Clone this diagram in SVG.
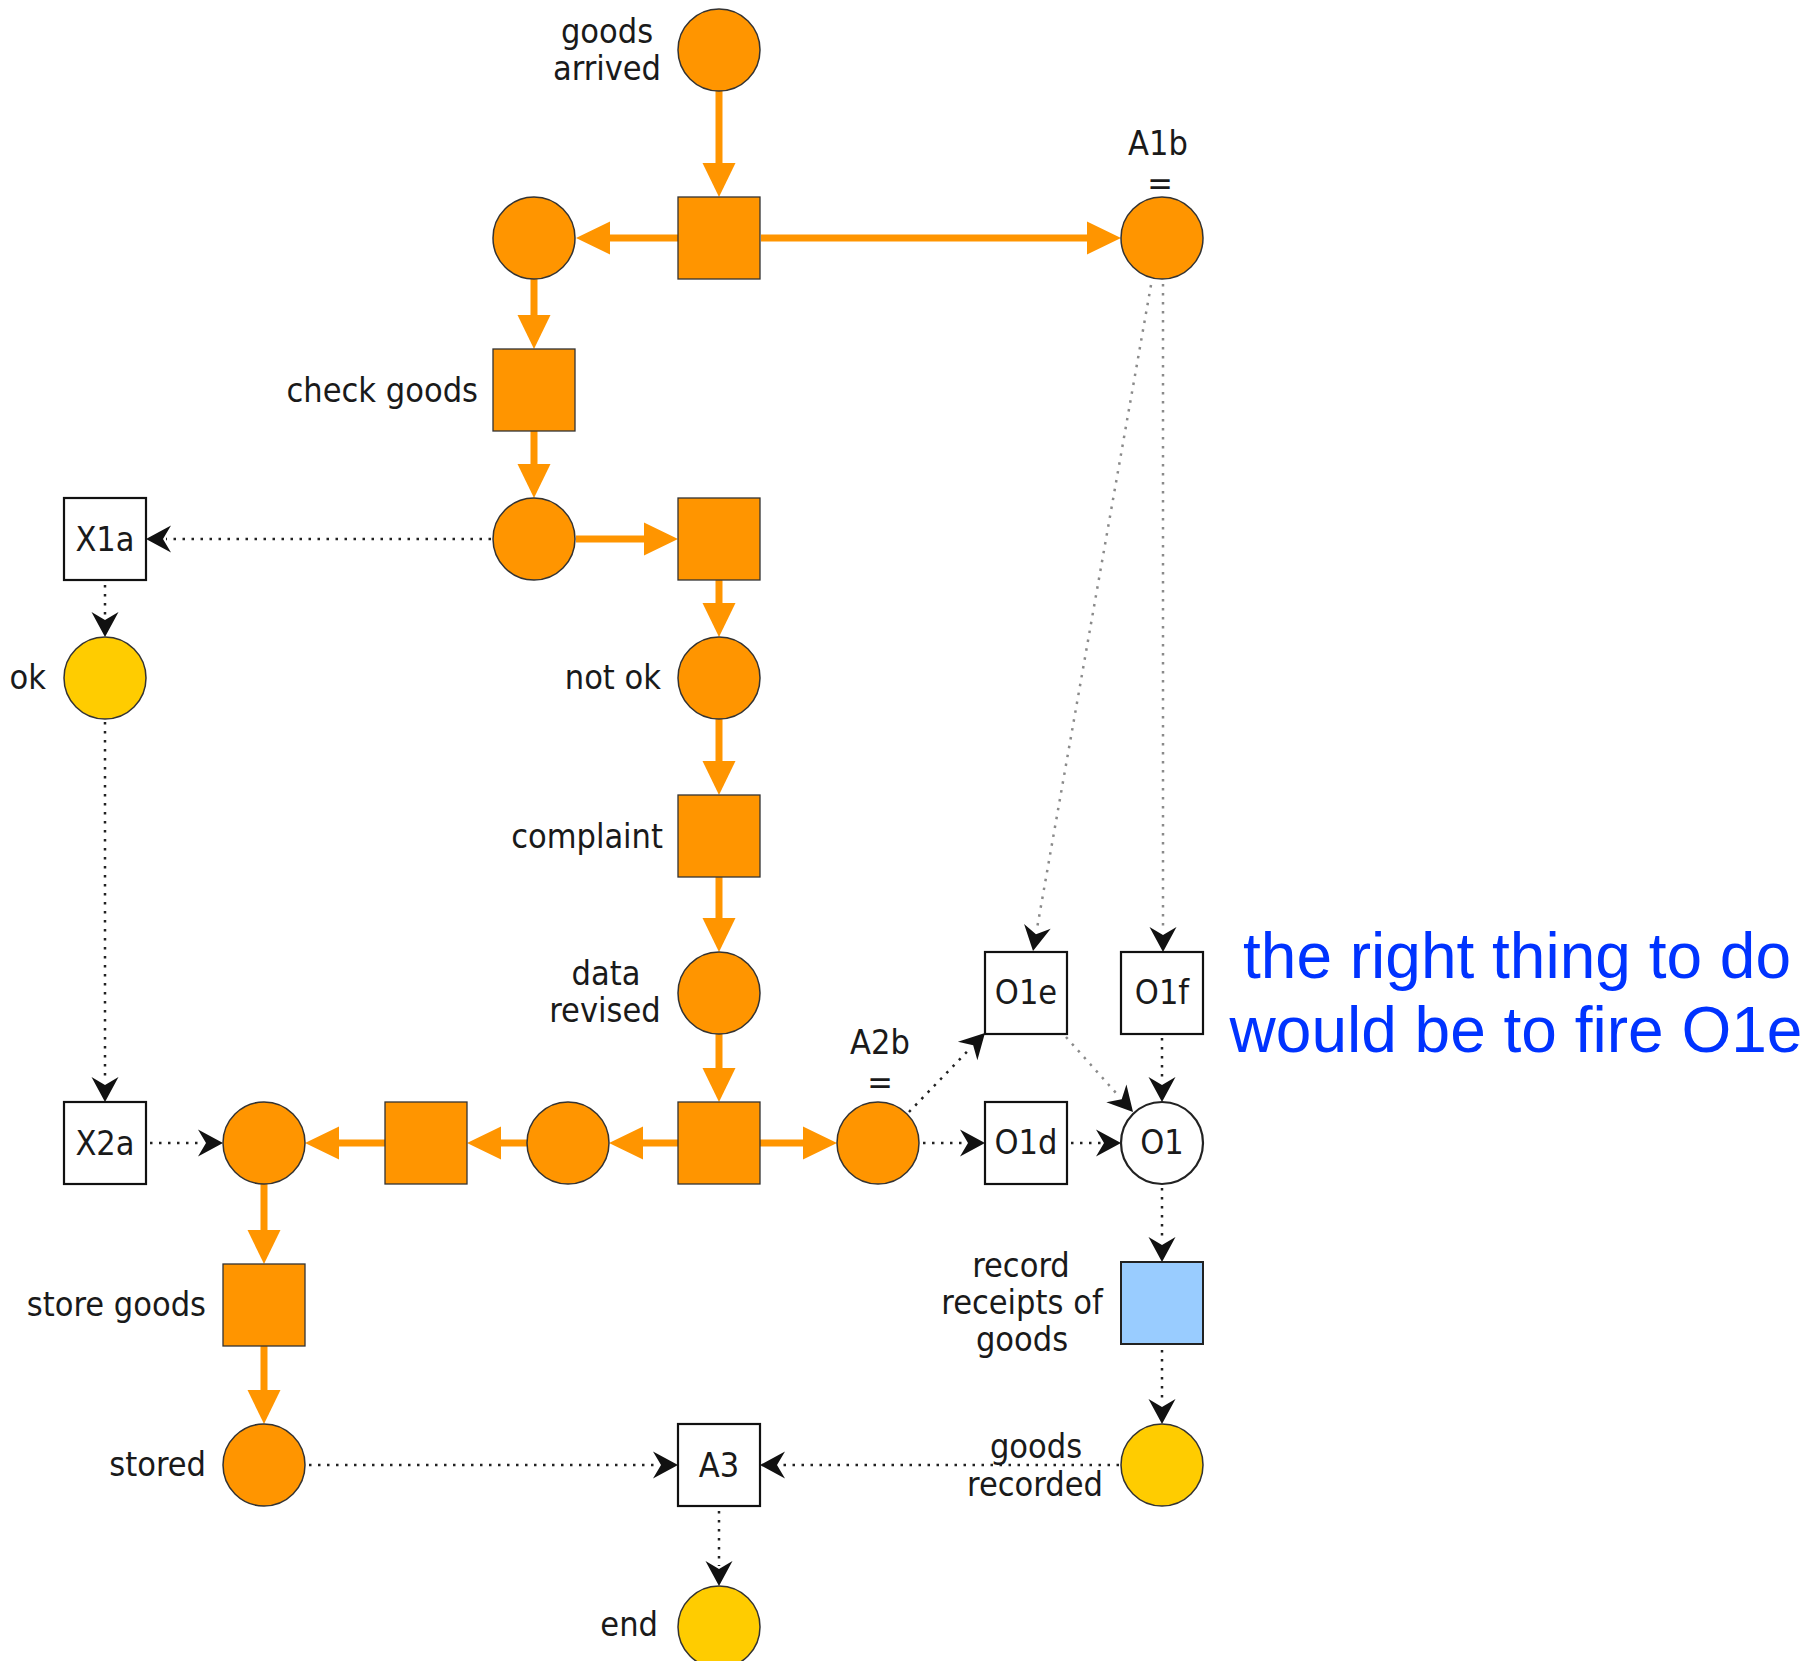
<svg xmlns="http://www.w3.org/2000/svg" width="1810" height="1661" viewBox="0 0 1810 1661">
<style>
.lbl{font-family:"DejaVu Sans Condensed","DejaVu Sans",sans-serif;font-stretch:condensed;font-size:34px;fill:#1a1a1a}
.mid{text-anchor:middle}
.end{text-anchor:end}
.po{fill:#FF9500;stroke:#333;stroke-width:1.5}
.py{fill:#FFCC00;stroke:#333;stroke-width:1.5}
.pw{fill:#fff;stroke:#222;stroke-width:2.2}
.to{fill:#FF9500;stroke:#333;stroke-width:1.3}
.tb{fill:#99CCFF;stroke:#222;stroke-width:2}
.bx{fill:#fff;stroke:#111;stroke-width:2.2}
.eo{fill:none;stroke:#FF9500;stroke-width:7;marker-end:url(#ao)}
.ed{fill:none;stroke:#222;stroke-width:2.5;stroke-dasharray:2.5 6.5;marker-end:url(#ab)}
.eg{fill:none;stroke:#8a8a8a;stroke-width:2.5;stroke-dasharray:2.5 6.5;marker-end:url(#ab)}
.note{font-family:"Liberation Sans",Arial,sans-serif;font-size:64px;fill:#0033FF;text-anchor:middle}
</style>
<defs>
<marker id="ao" markerUnits="userSpaceOnUse" markerWidth="40" markerHeight="40" refX="0" refY="0" orient="auto" overflow="visible">
<path d="M-4,-16.5 L30,0 L-4,16.5 Z" fill="#FF9500"/>
</marker>
<marker id="ab" markerUnits="userSpaceOnUse" markerWidth="30" markerHeight="30" refX="0" refY="0" orient="auto" overflow="visible">
<path d="M20,0 L-5,-13.5 L3,0 L-5,13.5 Z" fill="#111"/>
</marker>
</defs>
<rect width="1810" height="1661" fill="#fff"/>

<g id="connectors">
<path class="eo" d="M719,91 L719,167"/>
<path class="eo" d="M678,238 L606,238"/>
<path class="eo" d="M761,238 L1091,238"/>
<path class="eo" d="M534,279 L534,319"/>
<path class="eo" d="M534,431 L534,468"/>
<path class="eo" d="M576,539 L648,539"/>
<path class="eo" d="M719,580 L719,607"/>
<path class="eo" d="M719,719 L719,765"/>
<path class="eo" d="M719,877 L719,922"/>
<path class="eo" d="M719,1034 L719,1072"/>
<path class="eo" d="M760,1143 L807,1143"/>
<path class="eo" d="M678,1143 L639,1143"/>
<path class="eo" d="M527,1143 L497,1143"/>
<path class="eo" d="M385,1143 L335,1143"/>
<path class="eo" d="M264,1184 L264,1234"/>
<path class="eo" d="M264,1346 L264,1394"/>

<path class="ed" d="M491,539 L166,539"/>
<path class="ed" d="M105,585 L105,617"/>
<path class="ed" d="M105,722 L105,1082"/>
<path class="ed" d="M150,1143 L203,1143"/>
<path class="ed" d="M309,1465 L658,1465"/>
<path class="ed" d="M1119,1465 L780,1465"/>
<path class="ed" d="M719,1511 L719,1566"/>
<path class="ed" d="M923,1143 L965,1143"/>
<path class="ed" d="M1071,1143 L1101,1143"/>
<path class="ed" d="M909,1112 L971.1,1047.4"/>
<path class="eg" d="M1066,1037 L1119.7,1097.1"/>
<path class="ed" d="M1162,1038 L1162,1082"/>
<path class="eg" d="M1163,284 L1163,932"/>
<path class="eg" d="M1151,285 L1036.5,931.3"/>
<path class="ed" d="M1162,1188 L1162,1242"/>
<path class="ed" d="M1162,1350 L1162,1404"/>
</g>

<g id="goods-arrived">
<circle class="po" cx="719" cy="50" r="41"/>
<text class="lbl mid" x="607" y="43">goods</text>
<text class="lbl mid" x="607" y="80">arrived</text>
</g>
<g id="t-split"><rect class="to" x="678" y="197" width="82" height="82"/></g>
<g id="p1"><circle class="po" cx="534" cy="238" r="41"/></g>
<g id="A1b">
<circle class="po" cx="1162" cy="238" r="41"/>
<text class="lbl mid" x="1158" y="155">A1b</text>
<text class="lbl mid" x="1160" y="195">=</text>
</g>
<g id="check-goods">
<rect class="to" x="493" y="349" width="82" height="82"/>
<text class="lbl end" x="478" y="402">check goods</text>
</g>
<g id="p2"><circle class="po" cx="534" cy="539" r="41"/></g>
<g id="t2"><rect class="to" x="678" y="498" width="82" height="82"/></g>
<g id="X1a">
<rect class="bx" x="64" y="498" width="82" height="82"/>
<text class="lbl mid" x="105" y="551">X1a</text>
</g>
<g id="ok">
<circle class="py" cx="105" cy="678" r="41"/>
<text class="lbl end" x="46" y="689">ok</text>
</g>
<g id="not-ok">
<circle class="po" cx="719" cy="678" r="41"/>
<text class="lbl end" x="661" y="689">not ok</text>
</g>
<g id="complaint">
<rect class="to" x="678" y="795" width="82" height="82"/>
<text class="lbl end" x="663" y="848">complaint</text>
</g>
<g id="data-revised">
<circle class="po" cx="719" cy="993" r="41"/>
<text class="lbl mid" x="606" y="985">data</text>
<text class="lbl mid" x="605" y="1022">revised</text>
</g>
<g id="t3"><rect class="to" x="678" y="1102" width="82" height="82"/></g>
<g id="A2b">
<circle class="po" cx="878" cy="1143" r="41"/>
<text class="lbl mid" x="880" y="1054">A2b</text>
<text class="lbl mid" x="880" y="1094">=</text>
</g>
<g id="p4"><circle class="po" cx="568" cy="1143" r="41"/></g>
<g id="t4"><rect class="to" x="385" y="1102" width="82" height="82"/></g>
<g id="p5"><circle class="po" cx="264" cy="1143" r="41"/></g>
<g id="X2a">
<rect class="bx" x="64" y="1102" width="82" height="82"/>
<text class="lbl mid" x="105" y="1155">X2a</text>
</g>
<g id="store-goods">
<rect class="to" x="223" y="1264" width="82" height="82"/>
<text class="lbl end" x="206" y="1316">store goods</text>
</g>
<g id="stored">
<circle class="po" cx="264" cy="1465" r="41"/>
<text class="lbl end" x="206" y="1476">stored</text>
</g>
<g id="A3">
<rect class="bx" x="678" y="1424" width="82" height="82"/>
<text class="lbl mid" x="719" y="1477">A3</text>
</g>
<g id="end">
<circle class="py" cx="719" cy="1627" r="41"/>
<text class="lbl end" x="658" y="1636">end</text>
</g>
<g id="O1e">
<rect class="bx" x="985" y="952" width="82" height="82"/>
<text class="lbl mid" x="1026" y="1004">O1e</text>
</g>
<g id="O1f">
<rect class="bx" x="1121" y="952" width="82" height="82"/>
<text class="lbl mid" x="1162" y="1004">O1f</text>
</g>
<g id="O1d">
<rect class="bx" x="985" y="1102" width="82" height="82"/>
<text class="lbl mid" x="1026" y="1154">O1d</text>
</g>
<g id="O1">
<circle class="pw" cx="1162" cy="1143" r="41"/>
<text class="lbl mid" x="1162" y="1154">O1</text>
</g>
<g id="record-receipts">
<rect class="tb" x="1121" y="1262" width="82" height="82"/>
<text class="lbl mid" x="1021" y="1277">record</text>
<text class="lbl mid" x="1022" y="1314">receipts of</text>
<text class="lbl mid" x="1022" y="1351">goods</text>
</g>
<g id="goods-recorded">
<circle class="py" cx="1162" cy="1465" r="41"/>
<text class="lbl mid" x="1036" y="1458">goods</text>
<text class="lbl mid" x="1035" y="1496">recorded</text>
</g>
<g id="note">
<text class="note" x="1517" y="978">the right thing to do</text>
<text class="note" x="1516" y="1052">would be to fire O1e</text>
</g>
</svg>
